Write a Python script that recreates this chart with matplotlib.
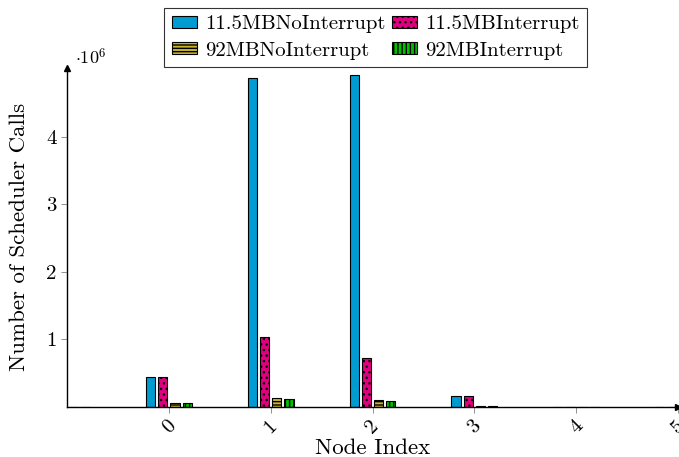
import numpy as np
import matplotlib
matplotlib.use("Agg")
import matplotlib.pyplot as plt
from matplotlib.ticker import FuncFormatter

plt.rcParams['font.family'] = 'serif'
plt.rcParams['font.serif'] = ['cmr10', 'DejaVu Serif']
plt.rcParams['mathtext.fontset'] = 'cm'
plt.rcParams['axes.formatter.use_mathtext'] = True
plt.rcParams['hatch.linewidth'] = 1.0

# data (number of scheduler calls per node)
nodes = [-1, 0, 1, 2, 3, 4, 5]
mb11_no_int = [4000, 446000, 4870000, 4915000, 160000, 4000, 4000]
mb11_int = [4000, 445000, 1030000, 730000, 158000, 4000, 4000]
mb92_no_int = [4000, 50000, 126000, 96000, 8000, 4000, 4000]
mb92_int = [4000, 50000, 120000, 86000, 8000, 4000, 4000]

labels = ['11.5MBNoInterrupt', '11.5MBInterrupt', '92MBNoInterrupt', '92MBInterrupt']
colors = ['#009bd0', '#e0007f', '#c8b432', '#00c000']
hatches = [None, '...', '-----', '||||']
series = [mb11_no_int, mb11_int, mb92_no_int, mb92_int]

fig = plt.figure(figsize=(6.79, 4.57), dpi=100)
ax = fig.add_axes([67/679, 1-406.8/457, 611/679, (406.8-68)/457])

x = np.array(nodes)
width = 0.09
offsets = [-0.18, -0.06, 0.06, 0.18]
handles = []
for vals, lab, col, h, off in zip(series, labels, colors, hatches, offsets):
    b = ax.bar(x + off, vals, width, color=col, edgecolor='black', linewidth=0.8,
               hatch=h, label=lab)
    handles.append(b)

ax.set_xlim(-1, 5.0)
ax.set_ylim(0, 5.02e6)
ax.set_xticks([0, 1, 2, 3, 4, 5])
ax.set_xticklabels(['0', '1', '2', '3', '4', '5'], rotation=45, fontsize=15)
ax.set_yticks([1e6, 2e6, 3e6, 4e6])
ax.yaxis.set_major_formatter(FuncFormatter(lambda v, p: f'{v/1e6:g}'))
ax.tick_params(axis='y', labelsize=15, direction='out', length=4, color='0.5', width=0.6)
ax.tick_params(axis='x', direction='out', length=4, color='0.5', width=0.6)

for s in ['top', 'right']:
    ax.spines[s].set_visible(False)
for s in ['left', 'bottom']:
    ax.spines[s].set_linewidth(1.0)

# arrow heads on the axes
ax.plot(1, 0, '>k', markersize=4, transform=ax.transAxes, clip_on=False)
ax.plot(0, 1, '^k', markersize=4, transform=ax.transAxes, clip_on=False)

ax.set_xlabel('Node Index', fontsize=16.5, labelpad=1)
ax.set_ylabel('Number of Scheduler Calls', fontsize=16.5, labelpad=12)
fig.text(75/679, 1-57/457, r'$\cdot 10^{6}$', fontsize=13, va='center', ha='left')

# legend is filled row by row in the reference
order = [0, 2, 1, 3]
leg = fig.legend(handles=[handles[i] for i in order], labels=[labels[i] for i in order],
                 loc='upper center', bbox_to_anchor=(0.553, 1 - 8/457), borderaxespad=0,
                 ncol=2, fontsize=15, frameon=True, fancybox=False, edgecolor='black',
                 handlelength=1.2, handleheight=0.5, columnspacing=0.3, handletextpad=0.4,
                 borderpad=0.35, labelspacing=0.4)
leg.get_frame().set_linewidth(0.8)

fig.savefig('out.png', dpi=100)
